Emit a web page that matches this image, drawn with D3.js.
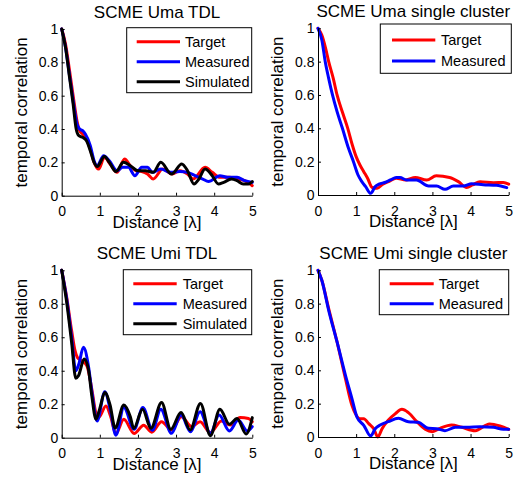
<!DOCTYPE html>
<html><head><meta charset="utf-8">
<script src="https://cdn.jsdelivr.net/npm/d3@7"></script>
<style>
html,body{margin:0;padding:0;background:#fff;}
svg text{font-family:"Liberation Sans",Arial,Helvetica,sans-serif;fill:#000;}
</style></head>
<body>
<svg id="chart" width="524" height="483"></svg>
<script>
// ---------- data ----------
const distanceTicks = [0, 1, 2, 3, 4, 5];
const corrTicks = [0, 0.2, 0.4, 0.6, 0.8, 1];
const titles = ["SCME Uma TDL", "SCME Uma single cluster", "SCME Umi TDL", "SCME Umi single cluster"];
const seriesNames = ["Target", "Measured", "Simulated"];
const xLabel = "Distance [\u03bb]";
const yLabel = "temporal correlation";

// [distance, correlation]
const umaTdlTarget = [[0,1],[0.1,0.91],[0.2,0.76],[0.3,0.6],[0.4,0.45],[0.47,0.39],[0.55,0.37],[0.65,0.34],[0.75,0.28],[0.85,0.2],[0.97,0.16],[1.12,0.23],[1.27,0.19],[1.45,0.14],[1.65,0.22],[1.8,0.18],[1.95,0.15],[2.1,0.145],[2.25,0.13],[2.4,0.10],[2.65,0.16],[2.9,0.13],[3.1,0.15],[3.3,0.13],[3.45,0.10],[3.76,0.17],[3.95,0.14],[4.15,0.11],[4.4,0.11],[4.6,0.10],[4.8,0.09],[5.0,0.06]];
const umaTdlMeasured = [[0,1],[0.1,0.89],[0.2,0.73],[0.3,0.57],[0.4,0.43],[0.47,0.40],[0.55,0.39],[0.62,0.37],[0.75,0.3],[0.85,0.21],[0.93,0.18],[1.1,0.24],[1.25,0.21],[1.45,0.15],[1.6,0.17],[1.75,0.17],[1.92,0.12],[2.1,0.17],[2.25,0.17],[2.38,0.14],[2.6,0.16],[2.85,0.14],[3.1,0.145],[3.3,0.14],[3.5,0.12],[3.7,0.10],[3.85,0.085],[4.15,0.12],[4.35,0.11],[4.6,0.11],[4.8,0.09],[5.0,0.08]];
const umaTdlSimulated = [[0,1],[0.1,0.89],[0.2,0.72],[0.3,0.55],[0.38,0.40],[0.45,0.36],[0.55,0.35],[0.65,0.33],[0.75,0.27],[0.85,0.2],[0.93,0.175],[1.12,0.235],[1.25,0.2],[1.42,0.145],[1.62,0.2],[1.8,0.18],[2.0,0.15],[2.2,0.15],[2.4,0.14],[2.6,0.2],[2.88,0.13],[3.15,0.19],[3.3,0.15],[3.47,0.07],[3.6,0.1],[3.76,0.16],[3.95,0.12],[4.11,0.07],[4.25,0.08],[4.45,0.10],[4.6,0.09],[4.76,0.07],[4.9,0.07],[5.0,0.085]];

const umaScTarget = [[0,1],[0.1,0.96],[0.2,0.88],[0.28,0.8],[0.4,0.7],[0.5,0.6],[0.65,0.49],[0.78,0.4],[0.9,0.3],[1.0,0.23],[1.1,0.18],[1.2,0.14],[1.3,0.1],[1.42,0.045],[1.55,0.04],[1.7,0.065],[1.85,0.08],[2.05,0.1],[2.3,0.09],[2.55,0.105],[2.85,0.09],[3.1,0.115],[3.45,0.105],[3.68,0.08],[3.9,0.045],[4.05,0.06],[4.25,0.08],[4.6,0.074],[4.86,0.075],[5.0,0.065]];
const umaScMeasured = [[0,1],[0.1,0.93],[0.19,0.8],[0.28,0.7],[0.38,0.6],[0.5,0.5],[0.64,0.4],[0.8,0.28],[0.93,0.2],[1.05,0.12],[1.15,0.08],[1.25,0.05],[1.38,0.01],[1.5,0.05],[1.6,0.065],[1.75,0.075],[1.9,0.09],[2.05,0.105],[2.15,0.105],[2.32,0.09],[2.58,0.09],[2.9,0.054],[3.11,0.054],[3.33,0.034],[3.55,0.054],[3.81,0.054],[4.03,0.068],[4.33,0.062],[4.68,0.058],[4.95,0.044]];

const umiTdlTarget = [[0,1],[0.13,0.84],[0.26,0.64],[0.35,0.52],[0.41,0.48],[0.52,0.46],[0.66,0.43],[0.79,0.29],[0.89,0.155],[0.97,0.12],[1.16,0.19],[1.28,0.13],[1.42,0.024],[1.63,0.11],[1.9,0.025],[2.15,0.075],[2.36,0.033],[2.62,0.096],[2.88,0.046],[3.14,0.125],[3.41,0.066],[3.63,0.096],[3.9,0.03],[4.19,0.1],[4.42,0.076],[4.68,0.12],[4.9,0.115],[5.0,0.095]];
const umiTdlMeasured = [[0,1],[0.13,0.83],[0.26,0.6],[0.37,0.4],[0.45,0.44],[0.57,0.54],[0.7,0.43],[0.8,0.26],[0.93,0.1],[1.13,0.275],[1.28,0.16],[1.42,0.015],[1.63,0.18],[1.9,0.05],[2.13,0.18],[2.38,0.045],[2.6,0.17],[2.88,0.026],[3.13,0.135],[3.38,0.036],[3.63,0.155],[3.9,0.026],[4.13,0.135],[4.4,0.04],[4.63,0.105],[4.87,0.04],[5.0,0.066]];
const umiTdlSimulated = [[0,1],[0.13,0.81],[0.26,0.57],[0.37,0.355],[0.44,0.37],[0.59,0.47],[0.7,0.41],[0.79,0.25],[0.9,0.11],[1.0,0.175],[1.13,0.27],[1.27,0.195],[1.4,0.058],[1.63,0.195],[1.8,0.125],[1.89,0.055],[2.12,0.17],[2.34,0.056],[2.62,0.21],[2.86,0.05],[3.13,0.15],[3.37,0.046],[3.64,0.205],[3.9,0.012],[4.15,0.17],[4.4,0.08],[4.6,0.115],[4.84,0.022],[5.0,0.12]];

const umiScTarget = [[0,1],[0.1,0.94],[0.28,0.77],[0.5,0.57],[0.72,0.35],[0.89,0.19],[0.98,0.14],[1.1,0.11],[1.2,0.11],[1.33,0.08],[1.46,0.05],[1.57,0.0],[1.68,0.05],[1.84,0.1],[2.03,0.14],[2.2,0.166],[2.37,0.146],[2.59,0.092],[2.81,0.046],[3.0,0.032],[3.2,0.052],[3.5,0.072],[3.77,0.058],[4.12,0.038],[4.5,0.078],[4.77,0.066],[5.0,0.046]];
const umiScMeasured = [[0,1],[0.1,0.94],[0.28,0.76],[0.5,0.57],[0.72,0.37],[0.89,0.23],[1.02,0.12],[1.2,0.07],[1.38,0.006],[1.5,0.05],[1.63,0.072],[1.84,0.092],[2.11,0.112],[2.37,0.092],[2.63,0.088],[2.9,0.052],[3.11,0.05],[3.33,0.038],[3.6,0.058],[3.9,0.058],[4.25,0.062],[4.6,0.058],[4.86,0.046],[5.0,0.046]];

const seriesColors = ["#ff0000", "#0000ff", "#000000"];

// ---------- layout ----------
const panels = [
  {title: titles[0], series: [umaTdlTarget, umaTdlMeasured, umaTdlSimulated], x0: 61.7, x1: 252.3, yTop: 29, yBot: 195.7,
   legend: {x: 126.7, y: 27.7, w: 125, h: 65, lx0: 136.7, lx1: 180, tx: 185, ys: [41.7, 61.7, 81.7]}},
  {title: titles[1], series: [umaScTarget, umaScMeasured], x0: 318, x1: 508.7, yTop: 28.3, yBot: 195,
   legend: {x: 380.3, y: 24, w: 131, h: 49.3, lx0: 392, lx1: 435.3, tx: 441, ys: [40, 61]}},
  {title: titles[2], series: [umiTdlTarget, umiTdlMeasured, umiTdlSimulated], x0: 61.7, x1: 252.3, yTop: 270.3, yBot: 437.7,
   legend: {x: 123.3, y: 269.7, w: 128.4, h: 65, lx0: 133.3, lx1: 176.7, tx: 182.7, ys: [283.7, 303.7, 323.7]}},
  {title: titles[3], series: [umiScTarget, umiScMeasured], x0: 318, x1: 508.7, yTop: 270.3, yBot: 437,
   legend: {x: 379.3, y: 269.7, w: 129.4, h: 45, lx0: 389.7, lx1: 433.7, tx: 438.7, ys: [283.7, 303.7]}}
];

const svg = d3.select("#chart");
const fmt = d3.format("~g");

panels.forEach(p => {
  const x = d3.scaleLinear().domain([0, 5]).range([p.x0, p.x1]);
  const y = d3.scaleLinear().domain([0, 1]).range([p.yBot, p.yTop]);
  const g = svg.append("g");

  const line = d3.line().x(d => x(d[0])).y(d => y(d[1])).curve(d3.curveMonotoneX);
  p.series.forEach((s, i) => {
    g.append("path").datum(s).attr("d", line)
      .attr("fill", "none").attr("stroke", seriesColors[i])
      .attr("stroke-width", 3).attr("stroke-linejoin", "round").attr("stroke-linecap", "round");
  });

  const xAxis = g.append("g").attr("transform", `translate(0,${p.yBot})`)
    .call(d3.axisBottom(x).tickValues(distanceTicks).tickFormat(fmt).tickSizeInner(-3).tickSizeOuter(0).tickPadding(8));
  const yAxis = g.append("g").attr("transform", `translate(${p.x0},0)`)
    .call(d3.axisLeft(y).tickValues(corrTicks).tickFormat(fmt).tickSizeInner(-3).tickSizeOuter(0).tickPadding(3.5));
  [xAxis, yAxis].forEach(a => {
    a.select(".domain").attr("stroke", "#000").attr("stroke-width", 1);
    a.selectAll(".tick line").attr("stroke", "#000");
    a.selectAll("text").style("font-size", "14px").attr("fill", "#000");
  });
  xAxis.selectAll("text").attr("dy", "0.9em");

  g.append("text").attr("x", (p.x0 + p.x1) / 2).attr("y", p.yTop - 11.5)
    .attr("text-anchor", "middle").style("font-size", "17px").text(p.title);
  g.append("text").attr("x", (p.x0 + p.x1) / 2).attr("y", p.yBot + 32)
    .attr("text-anchor", "middle").style("font-size", "17px").text(xLabel);
  g.append("text").attr("transform", `translate(${p.x0 - 35},${(p.yTop + p.yBot) / 2}) rotate(-90)`)
    .attr("text-anchor", "middle").style("font-size", "17px").text(yLabel);

  const L = p.legend;
  g.append("rect").attr("x", L.x).attr("y", L.y).attr("width", L.w).attr("height", L.h)
    .attr("fill", "#fff").attr("stroke", "#000").attr("stroke-width", 1);
  L.ys.forEach((ly, i) => {
    g.append("line").attr("x1", L.lx0).attr("x2", L.lx1).attr("y1", ly).attr("y2", ly)
      .attr("stroke", seriesColors[i]).attr("stroke-width", 3);
    g.append("text").attr("x", L.tx).attr("y", ly).attr("dy", "0.35em")
      .style("font-size", "14.5px").text(seriesNames[i]);
  });
});
</script>
</body></html>
